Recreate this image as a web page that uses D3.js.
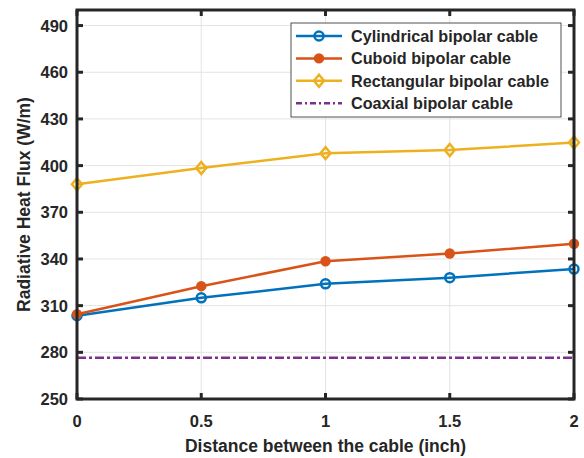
<!DOCTYPE html>
<html>
<head>
<meta charset="utf-8">
<script src="https://cdn.jsdelivr.net/npm/d3@7"></script>
<style>
  body { margin: 0; background: #fff; }
  text { font-family: "Liberation Sans", Arial, sans-serif; font-weight: bold; fill: #262626; }
</style>
</head>
<body>
<script>
// Data
const distance = [0, 0.5, 1, 1.5, 2];
const cylindrical = [303.5, 315, 324, 328, 333.5];
const cuboid = [304.5, 322.5, 338.5, 343.5, 349.8];
const rectangular = [388, 398.5, 408, 410, 414.8];
const coaxial = [276.5, 276.5, 276.5, 276.5, 276.5];
const yTicks = [250, 280, 310, 340, 370, 400, 430, 460, 490];
const xTicks = [0, 0.5, 1, 1.5, 2];
const seriesNames = ["Cylindrical bipolar cable", "Cuboid bipolar cable", "Rectangular bipolar cable", "Coaxial bipolar cable"];

const width = 584, height = 458;
const margin = {left: 77, right: 10, top: 10, bottom: 59};

const svg = d3.select("body").append("svg")
    .attr("width", width)
    .attr("height", height);

const x = d3.scaleLinear().domain([0, 2]).range([margin.left, width - margin.right]);
const y = d3.scaleLinear().domain([250, 500]).range([height - margin.bottom, margin.top]);

// grid
svg.append("g").selectAll("line")
    .data(yTicks)
    .join("line")
    .attr("x1", x(0)).attr("x2", x(2))
    .attr("y1", d => y(d)).attr("y2", d => y(d))
    .attr("stroke", "#e3e3e3").attr("stroke-width", 1);
svg.append("g").selectAll("line")
    .data(xTicks)
    .join("line")
    .attr("y1", y(250)).attr("y2", y(500))
    .attr("x1", d => x(d)).attr("x2", d => x(d))
    .attr("stroke", "#e3e3e3").attr("stroke-width", 1);

// series
const series = [
  {name: seriesNames[0], values: cylindrical, color: "#0072BD", marker: "circle", dash: null},
  {name: seriesNames[1], values: cuboid, color: "#D95319", marker: "dot", dash: null},
  {name: seriesNames[2], values: rectangular, color: "#EDB120", marker: "diamond", dash: null},
  {name: seriesNames[3], values: coaxial, color: "#7E2F8E", marker: null, dash: "9,3,3,3"}
];

const line = d3.line()
    .x((d, i) => x(distance[i]))
    .y(d => y(d));

const drawMarker = (g, type, color, cx, cy) => {
  if (type === "circle") {
    g.append("circle").attr("cx", cx).attr("cy", cy).attr("r", 4.5)
      .attr("fill", "none").attr("stroke", color).attr("stroke-width", 2.5);
  } else if (type === "dot") {
    g.append("circle").attr("cx", cx).attr("cy", cy).attr("r", 5.2)
      .attr("fill", color);
  } else if (type === "diamond") {
    g.append("path")
      .attr("d", `M${cx},${cy - 6}L${cx + 5},${cy}L${cx},${cy + 6}L${cx - 5},${cy}Z`)
      .attr("fill", "none").attr("stroke", color).attr("stroke-width", 2.5);
  }
};

series.forEach(s => {
  const g = svg.append("g");
  g.append("path")
    .datum(s.values)
    .attr("d", line)
    .attr("fill", "none")
    .attr("stroke", s.color)
    .attr("stroke-width", 2.5)
    .attr("stroke-dasharray", s.dash);
  if (s.marker) {
    s.values.forEach((v, i) => drawMarker(g, s.marker, s.color, x(distance[i]), y(v)));
  }
});

// axes box and ticks
const axisColor = "#262626";
svg.append("rect")
    .attr("x", x(0)).attr("y", y(500))
    .attr("width", x(2) - x(0)).attr("height", y(250) - y(500))
    .attr("fill", "none").attr("stroke", axisColor).attr("stroke-width", 3);

const ticks = svg.append("g").attr("stroke", axisColor).attr("stroke-width", 3);
yTicks.forEach(t => {
  ticks.append("line").attr("x1", x(0)).attr("x2", x(0) + 6).attr("y1", y(t)).attr("y2", y(t));
  ticks.append("line").attr("x1", x(2)).attr("x2", x(2) - 6).attr("y1", y(t)).attr("y2", y(t));
});
xTicks.forEach(t => {
  ticks.append("line").attr("y1", y(250)).attr("y2", y(250) - 6).attr("x1", x(t)).attr("x2", x(t));
  ticks.append("line").attr("y1", y(500)).attr("y2", y(500) + 6).attr("x1", x(t)).attr("x2", x(t));
});

svg.append("g").selectAll("text")
    .data(yTicks)
    .join("text")
    .attr("x", x(0) - 9)
    .attr("y", d => y(d))
    .attr("dy", "0.36em")
    .attr("text-anchor", "end")
    .attr("font-size", 16.5)
    .text(d => d);

svg.append("g").selectAll("text")
    .data(xTicks)
    .join("text")
    .attr("x", d => x(d))
    .attr("y", y(250) + 28)
    .attr("text-anchor", "middle")
    .attr("font-size", 16.5)
    .text(d => d);

svg.append("text")
    .attr("x", (x(0) + x(2)) / 2)
    .attr("y", 451.5)
    .attr("text-anchor", "middle")
    .attr("font-size", 17.5)
    .text("Distance between the cable (inch)");

svg.append("text")
    .attr("transform", `translate(29.5, 204.5) rotate(-90)`)
    .attr("text-anchor", "middle")
    .attr("font-size", 17.5)
    .text("Radiative Heat Flux (W/m)");

// legend
const legend = svg.append("g").attr("transform", "translate(291, 23)");
legend.append("rect")
    .attr("width", 270).attr("height", 94)
    .attr("fill", "#fff").attr("stroke", "#262626").attr("stroke-width", 0.8);

series.forEach((s, i) => {
  const ly = 13 + i * 22.4;
  const row = legend.append("g");
  row.append("line")
    .attr("x1", 5).attr("x2", 51).attr("y1", ly).attr("y2", ly)
    .attr("stroke", s.color).attr("stroke-width", 2.5)
    .attr("stroke-dasharray", s.dash ? "6,3,2,3" : null);
  if (s.marker) drawMarker(row, s.marker, s.color, 28, ly);
  row.append("text")
    .attr("x", 60).attr("y", ly).attr("dy", "0.36em")
    .attr("font-size", 16.2)
    .text(s.name);
});
</script>
</body>
</html>
